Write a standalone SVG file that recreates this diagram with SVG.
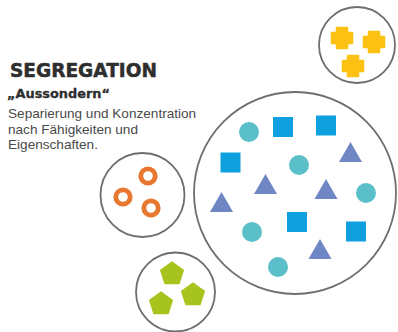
<svg xmlns="http://www.w3.org/2000/svg" xmlns:xlink="http://www.w3.org/1999/xlink" width="398" height="332" viewBox="0 0 398 332">
  <style>
    .ring { fill: #ffffff; stroke: #6e6e6e; stroke-width: 1.8; }
    .title { font-family: "DejaVu Sans", "Liberation Sans", sans-serif; font-weight: bold; font-size: 19px; fill: #2e2e2e; stroke: #2e2e2e; stroke-width: 0.5; }
    .sub { font-family: "DejaVu Sans", "Liberation Sans", sans-serif; font-weight: bold; font-size: 12.5px; fill: #2e2e2e; stroke: #2e2e2e; stroke-width: 0.3; }
    .body { font-family: "Liberation Sans", Arial, sans-serif; font-size: 13.6px; fill: #4a4a4a; }
    .teal { fill: #5bbfca; }
    .sq { fill: #0ea0df; }
    .tri { fill: #6e86c4; }
    .cross { fill: #fcc112; stroke: #fcc112; stroke-width: 1.5; stroke-linejoin: round; }
    .donut { fill: none; stroke: #e8782f; stroke-width: 4.8; }
    .pent { fill: #a7c41e; stroke: #a7c41e; stroke-width: 1.2; stroke-linejoin: round; }
  </style>
  <defs>
    <rect id="square" x="-10" y="-10" width="20" height="20"/>
    <path id="triangle" d="M0,-10 L11.5,10 L-11.5,10 Z"/>
    <path id="plus" d="M-5.5,-10.5 h11 v5 h5 v11 h-5 v5 h-11 v-5 h-5 v-11 h5 z"/>
    <polygon id="pentagon" points="0,-12 11.41,-3.71 7.05,9.71 -7.05,9.71 -11.41,-3.71"/>
  </defs>

  <g id="heading">
    <text class="title" x="10" y="77" textLength="147" lengthAdjust="spacingAndGlyphs">SEGREGATION</text>
    <text class="sub" x="7" y="98" textLength="103" lengthAdjust="spacingAndGlyphs">„Aussondern“</text>
    <text class="body" x="8" y="118">Separierung und Konzentration</text>
    <text class="body" x="8" y="133.5">nach Fähigkeiten und</text>
    <text class="body" x="8" y="149">Eigenschaften.</text>
  </g>

  <g id="group-yellow">
    <circle class="ring" cx="357" cy="45" r="38"/>
    <use href="#plus" xlink:href="#plus" class="cross" x="342" y="38"/>
    <use href="#plus" xlink:href="#plus" class="cross" x="374" y="42"/>
    <use href="#plus" xlink:href="#plus" class="cross" x="353" y="66"/>
  </g>

  <g id="group-orange">
    <circle class="ring" cx="142.5" cy="195" r="42"/>
    <circle class="donut" cx="148" cy="176" r="7.2"/>
    <circle class="donut" cx="123" cy="197" r="7.2"/>
    <circle class="donut" cx="151" cy="208" r="7.2"/>
  </g>

  <g id="group-green">
    <circle class="ring" cx="175.5" cy="292" r="39.5"/>
    <use href="#pentagon" xlink:href="#pentagon" class="pent" x="172" y="274"/>
    <use href="#pentagon" xlink:href="#pentagon" class="pent" x="193" y="295"/>
    <use href="#pentagon" xlink:href="#pentagon" class="pent" x="161" y="304"/>
  </g>

  <g id="group-mixed">
    <circle class="ring" cx="295" cy="193" r="101"/>
    <circle class="teal" cx="249" cy="132" r="10"/>
    <circle class="teal" cx="299" cy="165" r="10"/>
    <circle class="teal" cx="366" cy="193" r="10"/>
    <circle class="teal" cx="252" cy="232" r="10"/>
    <circle class="teal" cx="278" cy="267" r="10"/>
    <use href="#square" xlink:href="#square" class="sq" x="283" y="127"/>
    <use href="#square" xlink:href="#square" class="sq" x="326" y="125.5"/>
    <use href="#square" xlink:href="#square" class="sq" x="230.5" y="162.5"/>
    <use href="#square" xlink:href="#square" class="sq" x="297" y="222"/>
    <use href="#square" xlink:href="#square" class="sq" x="356" y="231.5"/>
    <use href="#triangle" xlink:href="#triangle" class="tri" x="350.5" y="152"/>
    <use href="#triangle" xlink:href="#triangle" class="tri" x="265.5" y="184"/>
    <use href="#triangle" xlink:href="#triangle" class="tri" x="326" y="189"/>
    <use href="#triangle" xlink:href="#triangle" class="tri" x="221.5" y="202"/>
    <use href="#triangle" xlink:href="#triangle" class="tri" x="320" y="249"/>
  </g>

  <g id="connectors"/>
</svg>
